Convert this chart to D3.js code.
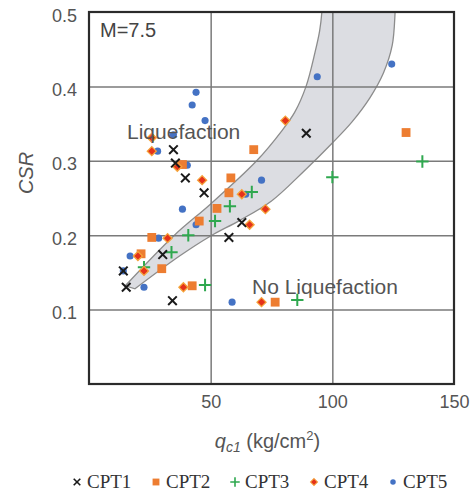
<!DOCTYPE html>
<html>
<head>
<meta charset="utf-8">
<script src="https://cdn.jsdelivr.net/npm/d3@7"></script>
<style>
    body { margin: 0; background: #fff; }
    svg { font-family: "Liberation Sans", Arial, sans-serif; }
</style>
</head>
<body>
<svg id="chart"></svg>
<script>
// data: [qc1, CSR]
const cpt1 = [[15.3,0.130],[14.1,0.152],[30.3,0.174],[34.3,0.112],[34.7,0.315],[35.5,0.297],
    [39.6,0.277],[47.3,0.257],[57.5,0.197],[62.8,0.217],[89.3,0.337]];
const cpt2 = [[21.4,0.175],[25.8,0.197],[29.9,0.155],[42.4,0.132],[45.3,0.219],[52.6,0.236],
    [57.5,0.257],[58.3,0.277],[67.7,0.315],[38.4,0.295],[76.5,0.110],[130.3,0.338]];
const cpt3 = [[22.6,0.157],[33.9,0.177],[40.8,0.200],[47.7,0.133],[51.8,0.219],[57.9,0.239],
    [66.9,0.258],[85.6,0.113],[100.0,0.278],[137.0,0.299]];
const cpt4 = [[20.1,0.172],[22.6,0.152],[25.8,0.331],[25.8,0.313],[32.3,0.196],[36.3,0.292],
    [38.8,0.130],[46.5,0.274],[62.8,0.255],[66.0,0.214],[70.9,0.110],[72.5,0.235],[80.7,0.354]];
const cpt5 = [[14.1,0.152],[16.9,0.172],[22.6,0.130],[28.6,0.196],[28.2,0.313],[34.7,0.335],
    [38.4,0.235],[40.4,0.294],[42.4,0.375],[44.0,0.392],[44.0,0.214],[47.7,0.354],[58.8,0.110],
    [64.4,0.255],[70.9,0.274],[93.8,0.413],[124.4,0.430]];

// boundary band (shaded zone)
const band_upper = [[14.9,0.132],[35.1,0.200],[50,0.242],[68.9,0.300],[79.4,0.341],[84.5,0.365],
    [89.2,0.400],[92.9,0.446],[94.8,0.475],[95.7,0.500],[96.0,0.520]];
const band_lower = [[126.0,0.520],[125.8,0.500],[124.6,0.455],[121.0,0.418],[115.5,0.385],
    [108,0.352],[100,0.324],[88,0.285],[75,0.246],[62,0.220],[50,0.199],[37.2,0.172],[18.9,0.128]];

const series_names = ['CPT1', 'CPT2', 'CPT3', 'CPT4', 'CPT5'];
const x_ticks = [50, 100, 150];
const y_ticks = [0.1, 0.2, 0.3, 0.4, 0.5];
const x_grid = [50, 100];
const y_grid = [0.1, 0.2, 0.3, 0.4];

class CsrChart {

    constructor( config ) {
        this.config = {
            parent: config.parent,
            width: config.width || 473,
            height: config.height || 493,
            margin: config.margin || {top:12, right:19, bottom:109, left:89},
        }
        this.styles = {
            CPT1: {symbol: d3.symbolTimes, size: 50, fill: 'none', stroke: '#1a1a1a', sw: 2},
            CPT2: {symbol: d3.symbolSquare, size: 78, fill: '#ed7d31', stroke: 'none', sw: 0},
            CPT3: {symbol: d3.symbolPlus, size: 52, fill: 'none', stroke: '#2fa84f', sw: 2},
            CPT4: {symbol: d3.symbolDiamond2, size: 52, fill: '#e5321b', stroke: '#f5a33a', sw: 1.3},
            CPT5: {symbol: d3.symbolCircle, size: 40, fill: '#4472c4', stroke: 'none', sw: 0},
        };
        this.data = {CPT1: cpt1, CPT2: cpt2, CPT3: cpt3, CPT4: cpt4, CPT5: cpt5};
        this.init();
    }

    init() {
        let self = this;

        self.svg = d3.select( self.config.parent )
            .attr('width', self.config.width)
            .attr('height', self.config.height);

        self.inner_width = self.config.width - self.config.margin.left - self.config.margin.right;
        self.inner_height = self.config.height - self.config.margin.top - self.config.margin.bottom;

        self.chart = self.svg.append('g')
            .attr('transform', `translate(${self.config.margin.left}, ${self.config.margin.top})`);

        self.svg.append('clipPath').attr('id', 'plotclip')
            .append('rect')
            .attr('width', self.inner_width)
            .attr('height', self.inner_height);

        self.xscale = d3.scaleLinear()
            .domain([0, 150])
            .range([0, self.inner_width]);

        self.yscale = d3.scaleLinear()
            .domain([0, 0.5])
            .range([self.inner_height, 0]);
    }

    render() {
        let self = this;
        const x = self.xscale, y = self.yscale;

        // band
        const line = d3.line()
            .x(d => x(d[0]))
            .y(d => y(d[1]))
            .curve(d3.curveCatmullRom);
        self.chart.append('path')
            .attr('clip-path', 'url(#plotclip)')
            .attr('d', line(band_upper.concat(band_lower)) + 'Z')
            .attr('fill', '#dcdde2')
            .attr('stroke', '#8c8c8c')
            .attr('stroke-width', 1.3);

        // grid
        const gx = self.chart.append('g')
            .attr('transform', `translate(0, ${self.inner_height})`)
            .call(d3.axisBottom(x).tickValues(x_grid).tickSize(-self.inner_height).tickFormat(''));
        const gy = self.chart.append('g')
            .call(d3.axisLeft(y).tickValues(y_grid).tickSize(-self.inner_width).tickFormat(''));
        [gx, gy].forEach(g => {
            g.select('.domain').remove();
            g.selectAll('line').attr('stroke', '#7a7a7a').attr('stroke-width', 1.5);
        });

        // tick labels
        const ax = self.chart.append('g')
            .attr('transform', `translate(0, ${self.inner_height})`)
            .call(d3.axisBottom(x).tickValues(x_ticks).tickSize(0).tickPadding(11));
        const ay = self.chart.append('g')
            .call(d3.axisLeft(y).tickValues(y_ticks).tickSize(0).tickPadding(12).tickFormat(d3.format('.1f')));
        ay.selectAll('text').attr('dy', '0.5em');
        [ax, ay].forEach(g => {
            g.select('.domain').remove();
            g.selectAll('text')
                .attr('fill', '#555')
                .attr('font-size', '18px')
                .attr('font-family', '"Liberation Sans", Arial, sans-serif');
        });

        // points
        ['CPT5', 'CPT2', 'CPT3', 'CPT4', 'CPT1'].forEach(name => {
            const st = self.styles[name];
            self.chart.append('g')
                .selectAll('path')
                .data(self.data[name])
                .join('path')
                .attr('transform', d => `translate(${x(d[0])}, ${y(d[1])})`)
                .attr('d', d3.symbol().type(st.symbol).size(st.size))
                .attr('fill', st.fill)
                .attr('stroke', st.stroke)
                .attr('stroke-width', st.sw);
        });

        // frame
        self.chart.append('rect')
            .attr('width', self.inner_width)
            .attr('height', self.inner_height)
            .attr('fill', 'none')
            .attr('stroke', '#2b2b2b')
            .attr('stroke-width', 2.2);

        // annotations
        self.chart.append('text')
            .attr('x', 11).attr('y', 25)
            .attr('font-size', '20px').attr('fill', '#444')
            .text('M=7.5');
        self.chart.append('text')
            .attr('x', 38).attr('y', 127)
            .attr('font-size', '21px').attr('fill', '#555')
            .text('Liquefaction');
        self.chart.append('text')
            .attr('x', 163).attr('y', 282)
            .attr('font-size', '21px').attr('fill', '#555')
            .text('No Liquefaction');

        // axis titles
        const xt = self.svg.append('text')
            .attr('x', self.config.margin.left + x(75) - 4)
            .attr('y', 448)
            .attr('text-anchor', 'middle')
            .attr('font-size', '20px')
            .attr('fill', '#555');
        xt.append('tspan').attr('font-style', 'italic').text('q');
        xt.append('tspan').attr('font-style', 'italic').attr('font-size', '14px').attr('dy', 4).text('c1');
        xt.append('tspan').attr('dy', -4).text(' (kg/cm');
        xt.append('tspan').attr('font-size', '13px').attr('dy', -8).text('2');
        xt.append('tspan').attr('dy', 8).text(')');

        self.svg.append('text')
            .attr('transform', 'rotate(-90)')
            .attr('x', -173)
            .attr('y', 33)
            .attr('text-anchor', 'middle')
            .attr('font-size', '20px')
            .attr('font-style', 'italic')
            .attr('fill', '#555')
            .text('CSR');

        // legend
        const legend = self.svg.append('g')
            .attr('transform', 'translate(77, 482)');
        series_names.forEach((name, i) => {
            const st = self.styles[name];
            const item = legend.append('g')
                .attr('transform', `translate(${i * 79}, 0)`);
            item.append('path')
                .attr('d', d3.symbol().type(st.symbol).size(st.size * 0.6))
                .attr('fill', st.fill)
                .attr('stroke', st.stroke)
                .attr('stroke-width', st.sw * 0.8);
            item.append('text')
                .attr('x', 10)
                .attr('y', 6)
                .style('font-family', '"Liberation Serif", "Times New Roman", serif')
                .attr('font-size', '19px')
                .attr('fill', '#333')
                .text(name);
        });
    }
}

const chart = new CsrChart({ parent: '#chart' });
chart.render();
</script>
</body>
</html>
